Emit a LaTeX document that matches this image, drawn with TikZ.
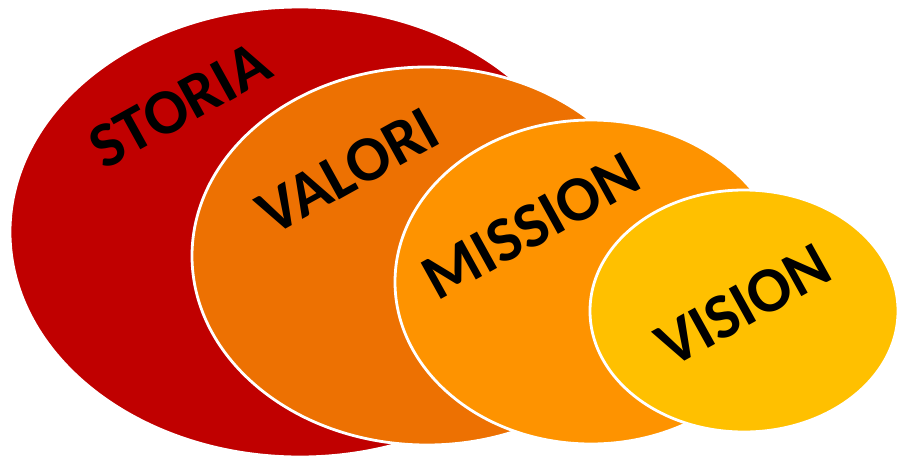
\documentclass[tikz,border=0pt]{standalone}
\usepackage{fontspec}
\setmainfont{Carlito}
\usetikzlibrary{shapes.geometric}
\definecolor{storiared}{HTML}{C00000}
\definecolor{valoriorange}{HTML}{ED7102}
\definecolor{missionorange}{HTML}{FE9300}
\definecolor{visionyellow}{HTML}{FFC000}
\begin{document}
\begin{tikzpicture}[x=1pt,y=-1pt,
  blob/.style={ellipse, draw=white, line width=2.8pt, inner sep=0pt},
  word/.style={font=\fontsize{64}{74}\selectfont\bfseries, text=black, inner sep=0pt, rotate=29}]
\useasboundingbox (0,0) rectangle (897,456);
% nested circles, back to front
\node[blob, fill=storiared, minimum width=580pt, minimum height=450pt] (storia) at (300,232) {};
\node[blob, fill=valoriorange, minimum width=470pt, minimum height=378pt] (valori) at (427,256) {};
\node[blob, fill=missionorange, minimum width=392pt, minimum height=324pt] (mission) at (591,282) {};
\node[blob, fill=visionyellow, minimum width=308pt, minimum height=242pt] (vision) at (744,311) {};
% labels
\node[word] (tstoria) at (180,105) {STORIA};
\node[word] (tvalori) at (348,171) {VALORI};
\node[word] (tmission) at (531,226) {MISSION};
\node[word] (tvision) at (743,305) {VISION};
\end{tikzpicture}
\end{document}
